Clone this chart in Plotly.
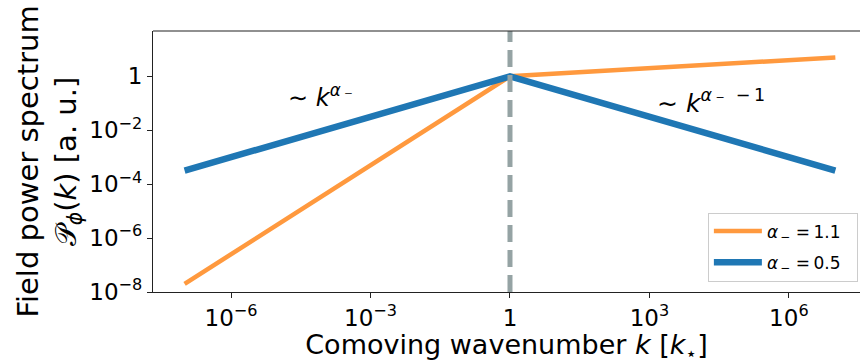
import plotly.graph_objects as go

# Broken power-law spectra, pivot at k = k_star
k_vals = [1e-7, 1.0, 1e7]
spec_steep = [2.0e-8, 1.0, 5.0]        # alpha_- = 1.1
spec_shallow = [3.16e-4, 1.0, 3.16e-4]  # alpha_- = 0.5
k_pivot = 1.0

x_tickvals = [1e-6, 1e-3, 1, 1e3, 1e6]
x_ticktext = ["10<sup>−6</sup>", "10<sup>−3</sup>", "1", "10<sup>3</sup>", "10<sup>6</sup>"]
y_tickvals = [1e-8, 1e-6, 1e-4, 1e-2, 1]
y_ticktext = ["10<sup>−8</sup>", "10<sup>−6</sup>", "10<sup>−4</sup>", "10<sup>−2</sup>", "1"]

FONT = "DejaVu Sans"
W, H = 860, 364
L, R, T, B = 153, 0, 31, 72
NB = "\u00a0"
TH = "\u2009"

fig = go.Figure()
fig.add_trace(go.Scatter(
    x=k_vals, y=spec_steep, mode="lines",
    line=dict(color="#ff993e", width=4.5),
    name="<i>α</i><sub>" + TH + "−</sub>" + NB + "=" + TH + "1.1" + NB * 2, legendgroup="a",
))
fig.add_trace(go.Scatter(
    x=k_vals, y=spec_shallow, mode="lines",
    line=dict(color="#1f77b4", width=6.5),
    name="<i>α</i><sub>" + TH + "−</sub>" + NB + "=" + TH + "0.5" + NB * 2, legendgroup="b",
))

# pivot scale marker
fig.add_shape(type="line", xref="x", yref="paper", x0=k_pivot, x1=k_pivot, y0=0, y1=1,
              line=dict(color="#95a3a4", width=5, dash="17px,8px"), layer="above")
# top frame line
fig.add_shape(type="line", xref="paper", yref="paper", x0=0, x1=1, y0=1, y1=1,
              line=dict(color="#222222", width=1.2))

fig.add_annotation(x=-4.82, y=-0.72, xref="x", yref="y", xanchor="left", yanchor="middle",
                   text="∼ <i>k</i><sup><i>α</i>" + TH + "₋</sup>", showarrow=False,
                   font=dict(family=FONT, size=24, color="black"))
fig.add_annotation(x=3.12, y=-0.92, xref="x", yref="y", xanchor="left", yanchor="middle",
                   text="∼ <i>k</i><sup><i>α</i>" + TH + "₋" + NB * 2 + "−" + TH + "1</sup>",
                   showarrow=False,
                   font=dict(family=FONT, size=25, color="black"))

fig.update_xaxes(
    type="log", range=[-7.68, 7.53],
    tickvals=x_tickvals, ticktext=x_ticktext,
    ticks="outside", ticklen=5, tickwidth=1.2, tickcolor="#222222",
    showline=True, linecolor="#222222", linewidth=1.2,
    showgrid=False, zeroline=False,
    tickfont=dict(family=FONT, size=23, color="black"),
    title=dict(text="Comoving wavenumber <i>k</i> [<i>k</i><sub>⋆</sub>]",
               font=dict(family=FONT, size=27, color="black"), standoff=5),
)
fig.update_yaxes(
    type="log", range=[-8, 1.68],
    tickvals=y_tickvals, ticktext=y_ticktext,
    ticks="outside", ticklen=5, tickwidth=1.2, tickcolor="#222222",
    showline=True, linecolor="#222222", linewidth=1.2,
    showgrid=False, zeroline=False,
    tickfont=dict(family=FONT, size=23, color="black"),
    title=dict(text="Field power spectrum<br>𝒫<sub><i>ϕ</i></sub>(<i>k</i>) [a. u.]",
               font=dict(family=FONT, size=29, color="black"), standoff=4),
)

fig.update_layout(
    width=W, height=H,
    margin=dict(l=L, r=R, t=T, b=B),
    paper_bgcolor="white", plot_bgcolor="white",
    font=dict(family=FONT, color="black"),
    legend=dict(
        x=0.997, y=0.04, xanchor="right", yanchor="bottom",
        bgcolor="rgba(255,255,255,0.8)", bordercolor="#cccccc", borderwidth=1,
        font=dict(family=FONT, size=17, color="black"),
        traceorder="grouped", tracegroupgap=6, itemwidth=48,
    ),
)

fig.write_html("out.html")
